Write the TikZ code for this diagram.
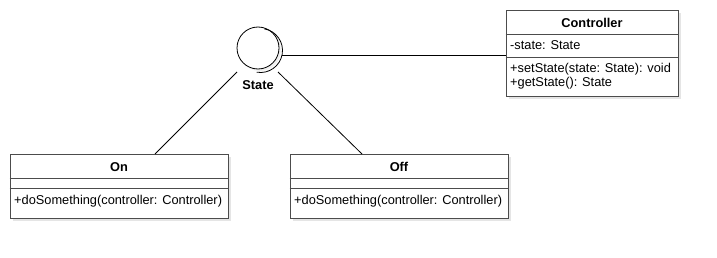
\documentclass[tikz,border=0pt]{standalone}
\usepackage{fontspec}
\setmainfont{Liberation Sans}
\usetikzlibrary{calc,positioning,shadows}
\tikzset{
  classbox/.style={draw=black!70, line width=1pt, fill=white, inner sep=0pt,
    drop shadow={shadow xshift=3pt, shadow yshift=-3pt, fill=black!10, opacity=1}},
  ball/.style={circle, draw, line width=0.8pt, fill=white, minimum size=42pt, inner sep=0pt,
    drop shadow={shadow xshift=2pt, shadow yshift=-2pt, fill=black!6, opacity=1}},
  classname/.style={inner sep=0pt, font=\fontsize{12.8}{15}\selectfont\bfseries},
  member/.style={anchor=west, inner sep=0pt, font=\fontsize{12.8}{15}\selectfont},
  link/.style={line width=0.8pt},
}
\begin{document}
\begin{tikzpicture}[x={(1pt,0)}, y={(0,-1pt)}]
  \useasboundingbox[fill=white] (0,0) rectangle (717,257);

  % interface ball
  \node[ball] (state) at (258,48) {};
  \draw[line width=0.8pt] ([shift={(80:22pt)}]260.5,50.5) arc[start angle=80, end angle=-100, radius=22pt];
  \node[classname] (statelbl) at (258,85) {State};

  % Controller
  \node[classbox, minimum width=172pt, minimum height=86pt] (ctrl) at (592,53) {};
  \draw[draw=black!70, line width=1pt] (ctrl.west |- 0,34) -- (ctrl.east |- 0,34);
  \draw[draw=black!70, line width=1pt] (ctrl.west |- 0,57) -- (ctrl.east |- 0,57);
  \node[classname] (ctrlname) at (592,23) {Controller};
  \node[member] (ctrlattr) at (510,45) {-state: State};
  \node[member] (ctrlset) at (510,69) {+setState(state: State): void};
  \node[member] (ctrlget) at (510,83.5) {+getState(): State};

  % On / Off
  \node[classbox, minimum width=218pt, minimum height=64pt] (on) at (119,186) {};
  \draw[draw=black!70, line width=1pt] (on.west |- 0,178) -- (on.east |- 0,178);
  \draw[draw=black!70, line width=1pt] (on.west |- 0,188) -- (on.east |- 0,188);
  \node[classname] (onname) at (119,167) {On};
  \node[member] (onop) at (14,201) {+doSomething(controller: Controller)};

  \node[classbox, minimum width=218pt, minimum height=64pt] (off) at (399,186) {};
  \draw[draw=black!70, line width=1pt] (off.west |- 0,178) -- (off.east |- 0,178);
  \draw[draw=black!70, line width=1pt] (off.west |- 0,188) -- (off.east |- 0,188);
  \node[classname] (offname) at (399,167) {Off};
  \node[member] (offop) at (294,201) {+doSomething(controller: Controller)};

  % connectors
  \coordinate (lol) at (282,55);
  \coordinate (sleft) at (237,72);
  \coordinate (sright) at (278,72);
  \coordinate (ontop) at (155,154);
  \coordinate (offtop) at (362,154);
  \draw[link] (lol) -- (ctrl.west |- lol);
  \draw[link] (sleft) -- (ontop);
  \draw[link] (sright) -- (offtop);
\end{tikzpicture}
\end{document}
